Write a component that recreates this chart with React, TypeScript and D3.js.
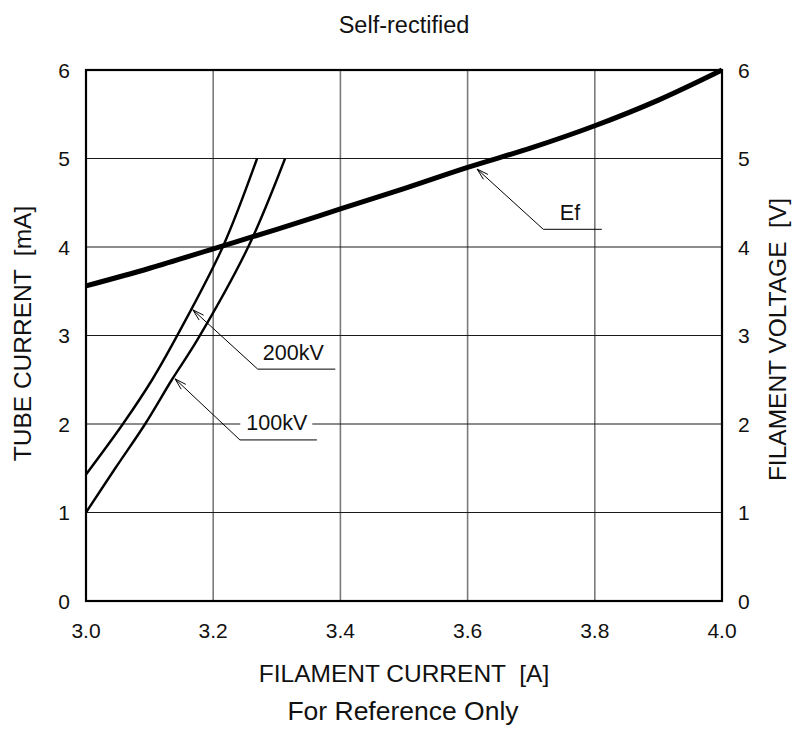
import React from "react";
import * as d3 from "d3";

const W = 806;
const H = 729;
const FONT = "'Liberation Sans', Arial, Helvetica, sans-serif";

const xTicks = [3.0, 3.2, 3.4, 3.6, 3.8, 4.0];
const yTicks = [0, 1, 2, 3, 4, 5, 6];

const efCurve: [number, number][] = [
  [3.0, 3.56], [3.1, 3.76], [3.2, 3.98], [3.3, 4.2], [3.4, 4.43], [3.5, 4.66],
  [3.6, 4.9], [3.7, 5.12], [3.8, 5.37], [3.9, 5.66], [4.0, 6.0],
];
const kv200Curve: [number, number][] = [
  [3.0, 1.43], [3.058, 2.0], [3.104, 2.5], [3.148, 3.06], [3.215, 4.0], [3.269, 5.0],
];
const kv100Curve: [number, number][] = [
  [3.0, 1.0], [3.046, 1.5], [3.093, 2.0], [3.135, 2.5], [3.175, 2.95], [3.255, 4.0], [3.313, 5.0],
];

const labels = ["Ef", "200kV", "100kV"];
const labelTips: [number, number][] = [[3.615, 4.88], [3.168, 3.29], [3.14, 2.51]];
const labelElbows: [number, number][] = [[3.719, 4.2], [3.27, 2.62], [3.242, 1.82]];
const labelEnds = [3.811, 3.392, 3.363];
const labelText: [number, number][] = [[3.745, 4.31], [3.278, 2.72], [3.252, 1.93]];

export default function App() {
  const left = 86, right = 722, top = 70, bottom = 601;
  const x = d3.scaleLinear().domain([3.0, 4.0]).range([left, right]);
  const y = d3.scaleLinear().domain([0, 6]).range([bottom, top]);
  const line = d3
    .line<[number, number]>()
    .x((d) => x(d[0]))
    .y((d) => y(d[1]))
    .curve(d3.curveCatmullRom.alpha(0.5));

  const arrowHead = (tip: [number, number], from: [number, number]) => {
    const tx = x(tip[0]), ty = y(tip[1]);
    const fx = x(from[0]), fy = y(from[1]);
    const ang = Math.atan2(fy - ty, fx - tx);
    const len = 12, spread = 0.28;
    const p1 = [tx + len * Math.cos(ang + spread), ty + len * Math.sin(ang + spread)];
    const p2 = [tx + len * Math.cos(ang - spread), ty + len * Math.sin(ang - spread)];
    return `M${p1[0]},${p1[1]}L${tx},${ty}L${p2[0]},${p2[1]}`;
  };

  return (
    <svg width={W} height={H} style={{ position: "absolute", left: 0, top: 0, background: "#fff" }} fontFamily={FONT}>
      <rect x={0} y={0} width={W} height={H} fill="#fff" />
      {/* vertical grid */}
      {xTicks.slice(1, -1).map((t) => (
        <line key={"vx" + t} x1={x(t)} x2={x(t)} y1={top} y2={bottom} stroke="#7a7a7a" strokeWidth={1.6} />
      ))}
      {/* horizontal grid */}
      {yTicks.slice(1, -1).map((t) => (
        <line key={"hy" + t} x1={left} x2={right} y1={y(t)} y2={y(t)} stroke="#1a1a1a" strokeWidth={1.1} />
      ))}

      {/* 100kV label background */}
      <rect
        x={x(labelText[2][0]) - 6}
        y={y(labelText[2][1]) - 18}
        width={72}
        height={24}
        fill="#fff"
      />

      {/* curves */}
      <path d={line(kv200Curve) || ""} fill="none" stroke="#000" strokeWidth={2.4} />
      <path d={line(kv100Curve) || ""} fill="none" stroke="#000" strokeWidth={2.4} />
      <path d={line(efCurve) || ""} fill="none" stroke="#000" strokeWidth={5} />

      {/* annotations */}
      {labels.map((lab, i) => (
        <g key={lab}>
          <path
            d={`M${x(labelTips[i][0])},${y(labelTips[i][1])}L${x(labelElbows[i][0])},${y(labelElbows[i][1])}L${x(labelEnds[i])},${y(labelElbows[i][1])}`}
            fill="none"
            stroke="#000"
            strokeWidth={1}
          />
          <path d={arrowHead(labelTips[i], labelElbows[i])} fill="none" stroke="#000" strokeWidth={1} />
          <text x={x(labelText[i][0])} y={y(labelText[i][1])} fontSize={21.5} fill="#111">
            {lab}
          </text>
        </g>
      ))}

      {/* frame */}
      <rect x={left} y={top} width={right - left} height={bottom - top} fill="none" stroke="#000" strokeWidth={2.2} />

      {/* ticks labels */}
      {yTicks.map((t) => (
        <text key={"yl" + t} x={left - 16} y={y(t)} dy="0.36em" textAnchor="end" fontSize={21} fill="#111">
          {t}
        </text>
      ))}
      {yTicks.map((t) => (
        <text key={"yr" + t} x={right + 16} y={y(t)} dy="0.36em" textAnchor="start" fontSize={21} fill="#111">
          {t}
        </text>
      ))}
      {xTicks.map((t) => (
        <text key={"xl" + t} x={x(t)} y={638} textAnchor="middle" fontSize={21} fill="#111">
          {t.toFixed(1)}
        </text>
      ))}

      {/* titles */}
      <text x={404} y={33} textAnchor="middle" fontSize={23.5} fill="#111">Self-rectified</text>
      <text x={404} y={682} textAnchor="middle" fontSize={24.5} fill="#111" style={{ whiteSpace: "pre" }}>
        {"FILAMENT CURRENT  [A]"}
      </text>
      <text x={403} y={720} textAnchor="middle" fontSize={26.5} fill="#111">For Reference Only</text>
      <text
        transform={`translate(31,${(top + bottom) / 2 - 2}) rotate(-90)`}
        textAnchor="middle"
        fontSize={24.5}
        fill="#111"
        style={{ whiteSpace: "pre" }}
      >
        {"TUBE CURRENT  [mA]"}
      </text>
      <text
        transform={`translate(786,${(top + bottom) / 2 + 4}) rotate(-90)`}
        textAnchor="middle"
        fontSize={24.5}
        fill="#111"
        style={{ whiteSpace: "pre" }}
      >
        {"FILAMENT VOLTAGE  [V]"}
      </text>
    </svg>
  );
}
